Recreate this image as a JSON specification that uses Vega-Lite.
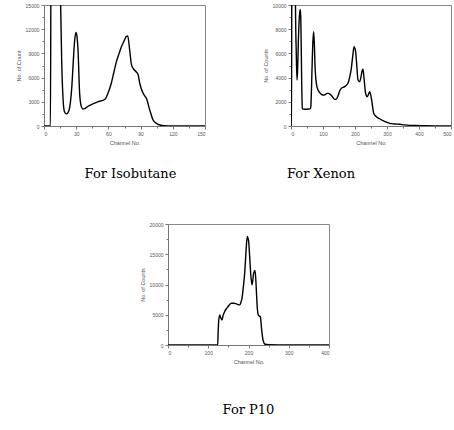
{
  "$schema": "https://vega.github.io/schema/vega-lite/v6.json",
  "background": "white",
  "padding": {"left": 15, "top": 2, "right": 0, "bottom": 0},
  "config": {
    "view": {"stroke": "#888", "strokeWidth": 1},
    "axis": {"labelFont": "Liberation Sans", "titleFont": "Liberation Sans", "labelFontSize": 5, "titleFontSize": 5.5, "titleFontWeight": "normal", "labelColor": "#555", "titleColor": "#555", "domainColor": "#777", "tickColor": "#777", "grid": false, "tickSize": 3, "labelPadding": 2},
    "title": {"font": "DejaVu Serif", "fontSize": 13, "fontWeight": "normal", "color": "black"}
  },
  "spacing": 40,
  "vconcat": [
    {
      "spacing": 56,
      "hconcat": [
        {
          "width": 161, "height": 121,
          "title": {"text": "For Isobutane", "orient": "bottom", "offset": 22, "anchor": "middle", "frame": "group", "dx": 6},
          "data": {"values": [
            {"ch":0,"n":0},{"ch":5,"n":0},{"ch":6,"n":0},{"ch":6.6,"n":25000},{"ch":14.5,"n":25000},{"ch":15.5,"n":15000},{"ch":16.5,"n":8000},{"ch":17.7,"n":3500},{"ch":19,"n":1800},{"ch":20.8,"n":1500},{"ch":22.5,"n":1700},{"ch":24.5,"n":2800},{"ch":26,"n":5000},{"ch":27,"n":7350},{"ch":28.6,"n":10660},{"ch":29.8,"n":11600},{"ch":30.8,"n":11000},{"ch":31.7,"n":9420},{"ch":33.2,"n":4050},{"ch":34.8,"n":2400},{"ch":36.3,"n":2100},{"ch":38,"n":2150},{"ch":41,"n":2450},{"ch":45,"n":2700},{"ch":50,"n":3000},{"ch":54,"n":3150},{"ch":57,"n":3350},{"ch":60,"n":4200},{"ch":62.7,"n":5300},{"ch":65,"n":6600},{"ch":67.4,"n":7950},{"ch":70,"n":9000},{"ch":72,"n":9800},{"ch":74.5,"n":10500},{"ch":76.7,"n":11100},{"ch":78,"n":11150},{"ch":79.8,"n":9450},{"ch":81.5,"n":7600},{"ch":83,"n":7150},{"ch":86,"n":6700},{"ch":87.6,"n":6400},{"ch":89.2,"n":5300},{"ch":92.3,"n":4050},{"ch":95.4,"n":3430},{"ch":98.5,"n":2000},{"ch":101.6,"n":750},{"ch":104.7,"n":330},{"ch":108,"n":120},{"ch":112,"n":40},{"ch":120,"n":10},{"ch":150,"n":0}
          ]},
          "layer": [
            {
              "mark": {"type": "line", "color": "black", "strokeWidth": 1.4, "clip": true, "interpolate": "monotone"},
              "encoding": {
                "x": {"field": "ch", "type": "quantitative", "scale": {"domain": [0, 150], "nice": false}, "axis": {"title": "Channel No.", "values": [0,30,60,90,120,150], "orient": "bottom"}},
                "y": {"field": "n", "type": "quantitative", "scale": {"domain": [0, 15000], "nice": false}, "axis": {"title": "No. of Count", "values": [0,3000,6000,9000,12000,15000], "orient": "left", "format": "d"}}
              }
            },
            {
              "mark": {"type": "line", "opacity": 0, "clip": true},
              "encoding": {
                "x": {"field": "ch", "type": "quantitative", "scale": {"domain": [0, 150], "nice": false}, "axis": {"title": null, "labels": false, "domain": false, "tickSize": 2, "values": [15,45,75,105,135], "orient": "bottom"}},
                "y": {"field": "n", "type": "quantitative", "scale": {"domain": [0, 15000], "nice": false}, "axis": {"title": null, "labels": false, "domain": false, "tickSize": 2, "values": [1500,4500,7500,10500,13500], "orient": "left"}}
              }
            }
          ],
          "resolve": {"axis": {"x": "independent", "y": "independent"}}
        },
        {
          "width": 160, "height": 121,
          "title": {"text": "For Xenon", "orient": "bottom", "offset": 22, "anchor": "middle", "frame": "group", "dx": -50},
          "data": {"values": [
            {"ch":0,"n":0},{"ch":2,"n":0},{"ch":2.5,"n":20000},{"ch":12,"n":20000},{"ch":14,"n":10000},{"ch":16.5,"n":6000},{"ch":18.8,"n":3800},{"ch":20.5,"n":4500},{"ch":23,"n":7000},{"ch":26,"n":9000},{"ch":29,"n":9640},{"ch":30.5,"n":9000},{"ch":32,"n":6500},{"ch":33.5,"n":3500},{"ch":35.4,"n":1460},{"ch":38,"n":1400},{"ch":45,"n":1380},{"ch":55,"n":1400},{"ch":60.4,"n":1430},{"ch":62,"n":1600},{"ch":63.5,"n":2600},{"ch":66,"n":5000},{"ch":68.5,"n":7000},{"ch":70.8,"n":7800},{"ch":73,"n":6800},{"ch":75,"n":5000},{"ch":77,"n":4080},{"ch":80,"n":3400},{"ch":84.4,"n":2975},{"ch":90,"n":2750},{"ch":100,"n":2560},{"ch":107,"n":2600},{"ch":112.5,"n":2700},{"ch":117,"n":2700},{"ch":122.9,"n":2617},{"ch":130,"n":2400},{"ch":136.5,"n":2200},{"ch":141.7,"n":2230},{"ch":147,"n":2500},{"ch":152,"n":2900},{"ch":157.3,"n":3110},{"ch":167.7,"n":3250},{"ch":178,"n":3530},{"ch":183,"n":4000},{"ch":188.5,"n":4770},{"ch":193,"n":5800},{"ch":196.9,"n":6560},{"ch":200,"n":6400},{"ch":202,"n":6140},{"ch":205,"n":5200},{"ch":209.4,"n":3800},{"ch":214.6,"n":3660},{"ch":219,"n":4100},{"ch":222.9,"n":4630},{"ch":225,"n":4700},{"ch":228,"n":4000},{"ch":233.2,"n":2700},{"ch":238.5,"n":2420},{"ch":242,"n":2600},{"ch":245.8,"n":2840},{"ch":249,"n":2600},{"ch":252,"n":2150},{"ch":255,"n":1600},{"ch":258.3,"n":1050},{"ch":266.7,"n":770},{"ch":275,"n":620},{"ch":287.5,"n":440},{"ch":298,"n":320},{"ch":308.3,"n":220},{"ch":325,"n":170},{"ch":339.6,"n":140},{"ch":355,"n":90},{"ch":370.8,"n":55},{"ch":390,"n":40},{"ch":412.5,"n":28},{"ch":450,"n":10},{"ch":500,"n":0}
          ]},
          "layer": [
            {
              "mark": {"type": "line", "color": "black", "strokeWidth": 1.4, "clip": true, "interpolate": "monotone"},
              "encoding": {
                "x": {"field": "ch", "type": "quantitative", "scale": {"domain": [0, 500], "nice": false}, "axis": {"title": "Channel No.", "values": [0,100,200,300,400,500], "orient": "bottom"}},
                "y": {"field": "n", "type": "quantitative", "scale": {"domain": [0, 10000], "nice": false}, "axis": {"title": "No. of Counts", "values": [0,2000,4000,6000,8000,10000], "orient": "left", "format": "d"}}
              }
            },
            {
              "mark": {"type": "line", "opacity": 0, "clip": true},
              "encoding": {
                "x": {"field": "ch", "type": "quantitative", "scale": {"domain": [0, 500], "nice": false}, "axis": {"title": null, "labels": false, "domain": false, "tickSize": 2, "values": [50,150,250,350,450], "orient": "bottom"}},
                "y": {"field": "n", "type": "quantitative", "scale": {"domain": [0, 10000], "nice": false}, "axis": {"title": null, "labels": false, "domain": false, "tickSize": 2, "values": [1000,3000,5000,7000,9000], "orient": "left"}}
              }
            }
          ],
          "resolve": {"axis": {"x": "independent", "y": "independent"}}
        }
      ]
    },
    {
      "spacing": 0,
      "hconcat": [
        {
          "width": 95, "height": 10,
          "view": {"stroke": null},
          "data": {"values": [{"k": 0}]},
          "mark": {"type": "point", "opacity": 0},
          "encoding": {}
        },
        {
          "width": 161, "height": 121,
          "title": {"text": "For P10", "orient": "bottom", "offset": 39, "anchor": "middle", "frame": "group"},
          "data": {"values": [
            {"ch":0,"n":0},{"ch":123.5,"n":0},{"ch":124.5,"n":2000},{"ch":126,"n":4000},{"ch":128.4,"n":4970},{"ch":131,"n":4500},{"ch":134.2,"n":4140},{"ch":137,"n":4900},{"ch":140.8,"n":5525},{"ch":145,"n":6000},{"ch":149,"n":6350},{"ch":157.3,"n":6900},{"ch":163,"n":6900},{"ch":169.8,"n":6800},{"ch":178,"n":6630},{"ch":181,"n":7000},{"ch":183.9,"n":7735},{"ch":187,"n":9500},{"ch":190.5,"n":11880},{"ch":192.5,"n":14000},{"ch":194.6,"n":16300},{"ch":197.1,"n":17950},{"ch":198.5,"n":17700},{"ch":200.4,"n":17130},{"ch":203,"n":14500},{"ch":205.4,"n":11880},{"ch":208.7,"n":9945},{"ch":210.5,"n":10600},{"ch":212.8,"n":11880},{"ch":216.1,"n":12320},{"ch":218,"n":11000},{"ch":220.3,"n":8010},{"ch":222,"n":6000},{"ch":224.4,"n":4970},{"ch":226.5,"n":4800},{"ch":229.4,"n":4700},{"ch":231,"n":3800},{"ch":232.7,"n":2490},{"ch":234.5,"n":1500},{"ch":236,"n":830},{"ch":238,"n":400},{"ch":240,"n":165},{"ch":245,"n":90},{"ch":252.6,"n":55},{"ch":280,"n":20},{"ch":319,"n":0},{"ch":400,"n":0}
          ]},
          "layer": [
            {
              "mark": {"type": "line", "color": "black", "strokeWidth": 1.4, "clip": true, "interpolate": "monotone"},
              "encoding": {
                "x": {"field": "ch", "type": "quantitative", "scale": {"domain": [0, 400], "nice": false}, "axis": {"title": "Channel No.", "values": [0,100,200,300,400], "orient": "bottom"}},
                "y": {"field": "n", "type": "quantitative", "scale": {"domain": [0, 20000], "nice": false}, "axis": {"title": "No. of Counts", "values": [0,5000,10000,15000,20000], "orient": "left", "format": "d"}}
              }
            },
            {
              "mark": {"type": "line", "opacity": 0, "clip": true},
              "encoding": {
                "x": {"field": "ch", "type": "quantitative", "scale": {"domain": [0, 400], "nice": false}, "axis": {"title": null, "labels": false, "domain": false, "tickSize": 2, "values": [50,150,250,350], "orient": "bottom"}},
                "y": {"field": "n", "type": "quantitative", "scale": {"domain": [0, 20000], "nice": false}, "axis": {"title": null, "labels": false, "domain": false, "tickSize": 2, "values": [2500,7500,12500,17500], "orient": "left"}}
              }
            }
          ],
          "resolve": {"axis": {"x": "independent", "y": "independent"}}
        }
      ]
    }
  ]
}
